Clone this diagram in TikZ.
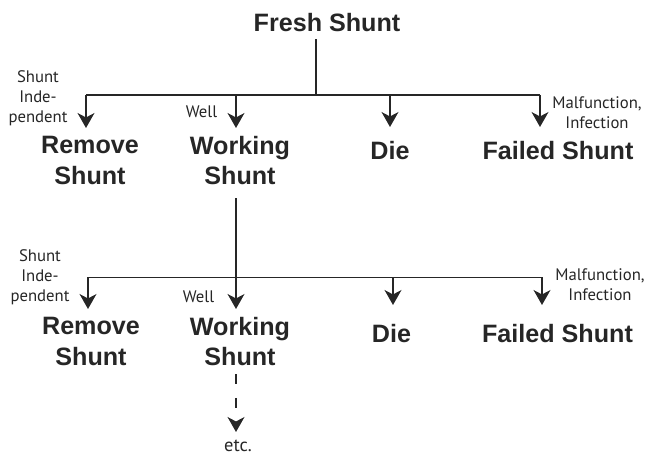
\documentclass[tikz,border=0pt]{standalone}
\usepackage{fontspec}
\setmainfont{Liberation Sans}
\newfontfamily\notefont{PT Sans}
\usetikzlibrary{arrows.meta}

\begin{document}
\begin{tikzpicture}[
  >={Stealth[length=8.5pt, width=9.6pt, inset=2.5pt]}, line width=0.9pt,
  black!85,
  state/.style={font=\fontsize{14.3}{17.6}\selectfont\bfseries, align=center, inner sep=4pt},
  note/.style={font=\notefont\fontsize{9.5}{11.3}\selectfont, align=center, inner sep=0pt},
  arr/.style={->},
  more/.style={->, dash pattern=on 5.7pt off 7.9pt},
]
  \useasboundingbox (0,0) rectangle (12.94,9.16);

  % first round
  \node[state, anchor=north] (fresh) at (6.54,9.06) {Fresh Shunt};
  \coordinate (j1) at (6.32,7.26);

  \node[state, anchor=north] (rm1)  at (1.80,6.60)  {Remove\\Shunt};
  \node[state, anchor=north] (wk1)  at (4.80,6.60)  {Working\\Shunt};
  \node[state, anchor=north] (die1) at (7.80,6.50)  {Die};
  \node[state, anchor=north] (fs1)  at (11.16,6.50) {Failed Shunt};

  \node[note] (ind1) at (0.76,7.19) {Shunt\\Inde-\\pendent};
  \node[note, anchor=east] (well1) at (4.36,6.92) {Well};
  \node[note] (mal1) at (11.94,6.91) {Malfunction,\\Infection};

  \draw (fresh.south -| j1) -- (j1);
  \draw (j1 -| 1.72,0) -- (j1 -| 10.80,0);
  \draw[arr] (j1 -| 1.72,0)  -- (rm1.north -| 1.72,0);
  \draw[arr] (j1 -| 4.72,0)  -- (wk1.north -| 4.72,0);
  \draw[arr, shorten >=0.12cm] (j1 -| die1) -- (die1.north);
  \draw[arr, shorten >=0.12cm] (j1 -| 10.80,0) -- (fs1.north -| 10.80,0);

  % second round
  \coordinate (j2) at (4.72,3.61);

  \node[state, anchor=north] (rm2)  at (1.82,2.98)  {Remove\\Shunt};
  \node[state, anchor=north] (wk2)  at (4.80,2.98)  {Working\\Shunt};
  \node[state, anchor=north] (die2) at (7.83,2.84)  {Die};
  \node[state, anchor=north] (fs2)  at (11.15,2.84) {Failed Shunt};

  \node[note] (ind2) at (0.80,3.62) {Shunt\\Inde-\\pendent};
  \node[note, anchor=east] (well2) at (4.30,3.22) {Well};
  \node[note] (mal2) at (12.00,3.46) {Malfunction,\\Infection};

  \draw[arr, shorten <=0.1cm] (wk1.south -| j2) -- (wk2.north -| j2);
  \draw (j2 -| 1.76,0) -- (j2 -| 10.84,0);
  \draw[arr] (j2 -| 1.76,0) -- (rm2.north -| 1.76,0);
  \draw[arr, shorten >=0.22cm] (j2 -| 7.86,0) -- (die2.north -| 7.86,0);
  \draw[arr, shorten >=0.22cm] (j2 -| 10.84,0) -- (fs2.north -| 10.84,0);

  % and so on
  \node[note, font=\notefont\fontsize{10.5}{12}\selectfont, inner sep=4pt, anchor=north] (etc) at (4.76,0.52) {etc.};
  \draw[more] (wk2.south -| j2) -- (etc.north -| j2);
\end{tikzpicture}
\end{document}
